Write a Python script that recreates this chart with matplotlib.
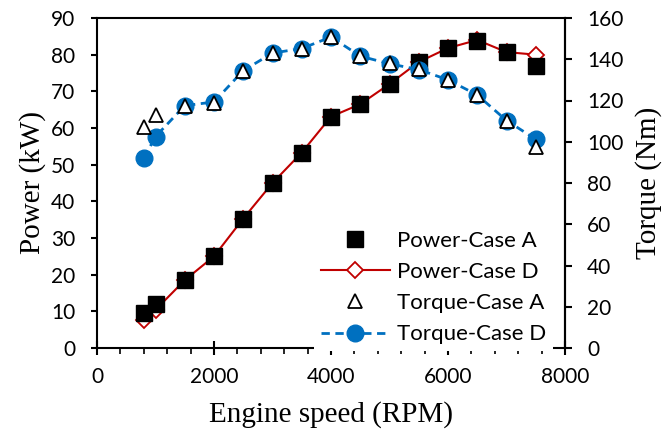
import matplotlib
matplotlib.use('Agg')
import matplotlib.pyplot as plt
from matplotlib.ticker import MultipleLocator
from matplotlib.lines import Line2D

# engine speed sweep (RPM)
speed = [800, 1000, 1500, 2000, 2500, 3000, 3500, 4000, 4500, 5000, 5500, 6000, 6500, 7000, 7500]

# power (kW)
power_a = [9.5, 12.0, 18.5, 25.0, 35.3, 45.0, 53.3, 63.1, 66.5, 72.0, 78.0, 81.8, 83.7, 80.7, 76.8]
power_d = [7.6, 10.4, 18.5, 25.0, 35.3, 45.0, 53.3, 63.1, 66.5, 72.0, 78.0, 81.8, 84.0, 80.7, 80.0]

# torque (Nm)
torque_a = [107.3, 112.8, 117.5, 119.0, 134.5, 143.0, 145.2, 150.8, 141.5, 138.0, 135.5, 130.0, 122.7, 110.3, 97.6]
torque_d = [92.0, 102.5, 117.5, 119.3, 134.5, 143.0, 145.2, 150.8, 141.5, 137.8, 135.0, 130.0, 122.7, 110.3, 101.2]

red = '#c00000'
blue = '#0070c0'
tick_font = 'Lato'
label_font = 'Liberation Serif'

fig = plt.figure(figsize=(6.68, 4.37), dpi=100)
ax = fig.add_axes([97 / 668, 89 / 437, 468 / 668, 330 / 437])
ax2 = ax.twinx()

# power on the left axis
ax.plot(speed, power_d, color=red, lw=1.5, marker='D', ms=8, mfc='white',
        mec=red, mew=1.3, zorder=2)
ax.plot(speed, power_a, ls='none', marker='s', ms=11, color='black', zorder=3)

# torque on the right axis
ax2.plot(speed, torque_d, color=blue, lw=2, ls=(0, (3, 2)), marker='o', ms=12,
         mfc=blue, mec=blue, zorder=2)
ax2.plot(speed, torque_a, ls='none', marker='^', ms=10, mfc='white', mec='black',
         mew=1.3, zorder=3)

ax.set_xlim(0, 8000)
ax.set_ylim(0, 90)
ax2.set_ylim(0, 160)
ax.xaxis.set_major_locator(MultipleLocator(2000))
ax.xaxis.set_minor_locator(MultipleLocator(400))
ax.yaxis.set_major_locator(MultipleLocator(10))
ax2.yaxis.set_major_locator(MultipleLocator(20))

for a in (ax, ax2):
    for s in a.spines.values():
        s.set_linewidth(1.5)
ax2.spines['bottom'].set_visible(False)
ax2.spines['top'].set_visible(False)
ax2.spines['left'].set_visible(False)

ax.tick_params(axis='x', which='major', direction='inout', length=10, width=1.5, pad=9)
ax.tick_params(axis='x', which='minor', direction='out', length=4, width=1.2)
ax.tick_params(axis='y', which='major', direction='out', length=4.5, width=1.5, pad=11)
ax2.tick_params(axis='y', which='major', direction='out', length=5, width=1.5, pad=11)

for lab in ax.get_xticklabels() + ax.get_yticklabels() + ax2.get_yticklabels():
    lab.set_fontfamily(tick_font)
    lab.set_fontsize(15)

ax.set_xlabel('Engine speed (RPM)', fontfamily=label_font, fontsize=21, labelpad=10)
ax.set_ylabel('Power (kW)', fontfamily=label_font, fontsize=21, labelpad=4)
ax2.set_ylabel('Torque (Nm)', fontfamily=label_font, fontsize=21, labelpad=8)

handles = [
    Line2D([], [], ls='none', marker='s', ms=11, color='black'),
    Line2D([], [], color=red, lw=1.5, marker='D', ms=8, mfc='white', mec=red, mew=1.3),
    Line2D([], [], ls='none', marker='^', ms=10, mfc='white', mec='black', mew=1.3),
    Line2D([], [], color=blue, lw=2, ls=(0, (3, 2)), marker='o', ms=12, mfc=blue, mec=blue),
]
labels = ['Power-Case A', 'Power-Case D', 'Torque-Case A', 'Torque-Case D']
leg = ax2.legend(handles, labels, loc='lower left',
                 bbox_to_anchor=(314 / 668, 86 / 437), bbox_transform=fig.transFigure,
                 borderaxespad=0, frameon=True, fancybox=False, framealpha=1,
                 handlelength=3.1, handletextpad=0.35, labelspacing=0.5,
                 borderpad=0.3, prop={'family': tick_font, 'size': 16})
leg.get_frame().set_edgecolor('none')
leg.set_zorder(10)

fig.savefig('out.png', dpi=100)
